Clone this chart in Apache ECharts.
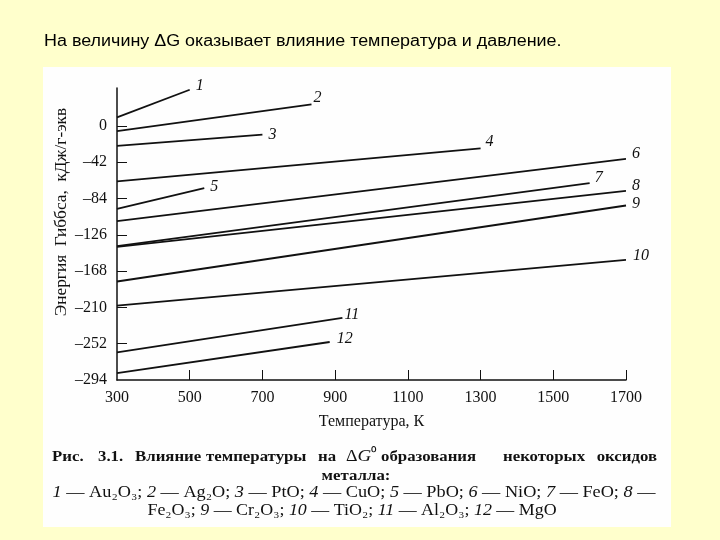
<!DOCTYPE html>
<html>
<head>
<meta charset="utf-8">
<script src="https://cdn.jsdelivr.net/npm/echarts@6/dist/echarts.min.js"></script>
<style>
  html, body { margin: 0; padding: 0; background: #ffffcc; }
  #chart { width: 720px; height: 540px; }
</style>
</head>
<body>
<div id="chart"></div>
<script>
// номера кривых и соответствующие оксиды
const curveNames = ['1', '2', '3', '4', '5', '6', '7', '8', '9', '10', '11', '12'];
const oxides = ['Au₂O₃', 'Ag₂O', 'PtO', 'CuO', 'PbO', 'NiO', 'FeO', 'Fe₂O₃', 'Cr₂O₃', 'TiO₂', 'Al₂O₃', 'MgO'];
// температура начала и конца прямой, К
const startT = [300, 300, 300, 300, 300, 300, 300, 300, 300, 300, 300, 300];
const endT = [500, 835, 700, 1300, 540, 1700, 1600, 1700, 1700, 1700, 920, 885];
// ΔG на концах прямой, кДж/г-экв
const startG = [10, -6, -23, -64, -96, -110, -139, -140, -180, -208, -262, -286];
const endG = [42, 25, -10, -26, -72, -38, -66, -75, -92, -155, -222, -250];
// подписи осей
const yTicks = [0, -42, -84, -126, -168, -210, -252, -294];
const xTicks = [300, 500, 700, 900, 1100, 1300, 1500, 1700];

const serif = 'Liberation Serif';
const ink = '#111';

// сдвиг номеров кривых относительно конца линии
const labelOffsets = [
  [6, -4], [2, -7], [6, 0], [5, -7], [6, -1], [6, -5],
  [5, -5], [6, -5], [6, -2], [7, -4], [2, -3], [7, -3]
];

const chart = echarts.init(document.getElementById('chart'));

// подпись к рисунку: первая строка выровнена по ширине, поэтому по словам
const captionWords = [
  ['Рис.', 52], ['3.1.', 98], ['Влияние', 135], ['температуры', 206], ['на', 318],
  ['{m|Δ}{g|G}{s|⁰}', 346], ['образования', 381], ['некоторых', 503]
];
const captionRich = {
  m: { fontFamily: serif, fontSize: 16, fill: ink },
  g: { fontFamily: serif, fontStyle: 'italic', fontSize: 17, fill: ink },
  s: { fontFamily: serif, fontSize: 14, fill: ink, padding: [0, 0, 6, 0] }
};
const boldStyle = { fontFamily: serif, fontWeight: 'bold', fontSize: 15, fill: ink, verticalAlign: 'middle' };

// легенда под рисунком
const items = oxides.map((ox, i) => '{i|' + curveNames[i] + '} — ' + ox);
const legendLine1 = items.slice(0, 7).join('; ') + '; {i|8} —';
const legendLine2 = oxides[7] + '; ' + items.slice(8).join('; ');
const richNum = { i: { fontFamily: serif, fontStyle: 'italic', fontSize: 16, fill: ink } };

chart.setOption({
  backgroundColor: '#ffffcc',
  animation: false,
  grid: { left: 117, right: 94, top: 88, bottom: 160, outerBoundsMode: 'none' },
  xAxis: {
    type: 'value',
    min: 300,
    max: 1700,
    interval: 200,
    name: 'Температура, К',
    nameLocation: 'middle',
    nameGap: 34,
    nameTextStyle: { fontFamily: serif, fontSize: 16, color: ink },
    axisLine: { onZero: false, lineStyle: { color: ink, width: 1.5 } },
    axisTick: { inside: true, length: 10, lineStyle: { color: ink }, customValues: xTicks.slice(1) },
    axisLabel: {
      customValues: xTicks, margin: 10, fontFamily: serif, fontSize: 16, color: ink,
      formatter: v => String(v)
    },
    splitLine: { show: false }
  },
  yAxis: {
    type: 'value',
    min: -294,
    max: 44,
    axisLine: { show: true, onZero: false, lineStyle: { color: ink, width: 1.5 } },
    axisTick: { show: true, inside: true, length: 10, lineStyle: { color: ink }, customValues: yTicks.slice(0, -1) },
    axisLabel: {
      customValues: yTicks,
      margin: 10,
      fontFamily: serif,
      fontSize: 16,
      color: ink,
      formatter: v => (v < 0 ? '–' + Math.abs(v) : String(v))
    },
    splitLine: { show: false }
  },
  graphic: [
    // белая подложка отсканированного рисунка
    { type: 'rect', z: -10, shape: { x: 43, y: 67, width: 628, height: 460 }, style: { fill: '#fefefe' } },
    {
      type: 'text', x: 44, y: 42, scaleX: 1.12,
      style: { text: 'На величину ΔG оказывает влияние температура и давление.', fontFamily: 'Liberation Sans', fontSize: 16, fill: '#000', verticalAlign: 'middle' }
    },
    {
      type: 'text', x: 62, y: 212, rotation: Math.PI / 2, scaleX: 1.08,
      style: { text: 'Энергия  Гиббса,  кДж/г-экв', fontFamily: serif, fontSize: 16, fill: ink, align: 'center', verticalAlign: 'middle' }
    },
    ...captionWords.map(([word, x]) => ({
      type: 'text', x: x, y: 457, scaleX: 1.12,
      style: Object.assign({ text: word, rich: captionRich }, boldStyle)
    })),
    {
      type: 'text', x: 657, y: 457, scaleX: 1.12,
      style: Object.assign({ text: 'оксидов', align: 'right' }, boldStyle)
    },
    {
      type: 'text', x: 356, y: 476, scaleX: 1.12,
      style: Object.assign({ text: 'металла:', align: 'center' }, boldStyle)
    },
    {
      type: 'text', x: 354, y: 493, scaleX: 1.14,
      style: { text: legendLine1, fontFamily: serif, fontSize: 16, fill: ink, align: 'center', verticalAlign: 'middle', rich: richNum }
    },
    {
      type: 'text', x: 352, y: 511, scaleX: 1.12,
      style: { text: legendLine2, fontFamily: serif, fontSize: 16, fill: ink, align: 'center', verticalAlign: 'middle', rich: richNum }
    }
  ],
  series: curveNames.map((name, i) => ({
    name: name,
    type: 'line',
    data: [[startT[i], startG[i]], [endT[i], endG[i]]],
    symbol: 'none',
    clip: false,
    silent: true,
    lineStyle: { color: ink, width: 1.8 },
    endLabel: {
      show: true,
      formatter: name,
      distance: 0,
      offset: labelOffsets[i],
      fontFamily: serif,
      fontStyle: 'italic',
      fontSize: 16,
      color: ink
    }
  }))
});
</script>
</body>
</html>
